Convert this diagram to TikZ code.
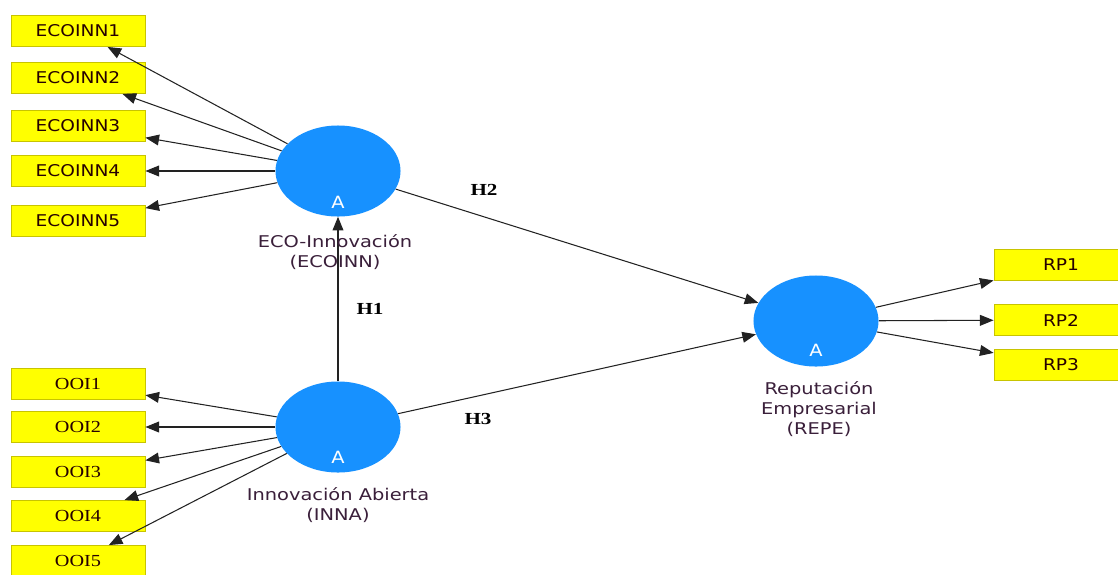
\documentclass[tikz,border=0pt]{standalone}
\usepackage{fontspec}
\usepackage{tikz}
\usetikzlibrary{arrows.meta, shapes.geometric}
\newfontfamily\plsfont[FakeStretch=1.15]{DejaVu Sans}
\newfontfamily\plsname[FakeStretch=1.2]{DejaVu Sans}
\newfontfamily\plsserif[FakeStretch=1.2]{Liberation Serif}
\newfontfamily\hypfont[FakeStretch=1.25]{Liberation Serif}
\definecolor{lvblue}{HTML}{1791FF}
\definecolor{mvyel}{HTML}{FFFF00}
\definecolor{mvedge}{HTML}{C8C400}
\definecolor{labtxt}{HTML}{3A1F3A}
\definecolor{pathc}{HTML}{222222}

\begin{document}
\begin{tikzpicture}[x=0.025cm, y=-0.025cm,
      lv/.style={ellipse, fill=lvblue, minimum width=3.125cm, minimum height=2.275cm, inner sep=0pt},
      mv/.style={rectangle, fill=mvyel, draw=mvedge, line width=0.6pt, minimum width=3.35cm,
                 minimum height=0.775cm, inner sep=0pt, text=black!85!red,
                 font=\plsfont\fontsize{11.5}{13}\selectfont},
      mvs/.style={mv, font=\plsserif\fontsize{12}{13}\selectfont},
      alab/.style={text=white, font=\plsfont\fontsize{12}{13}\selectfont, inner sep=0pt},
      lvname/.style={align=center, text=labtxt, font=\plsname\fontsize{11.5}{14.2}\selectfont},
      hyp/.style={font=\hypfont\bfseries\fontsize{12}{13}\selectfont, inner sep=0pt},
      arr/.style={draw=pathc, line width=0.75pt, -{Triangle[length=3.4mm, width=2.7mm]}}]
      \useasboundingbox (0,0) rectangle (1118,574);
      % latent variables
      \node[lv] (eco) at (338,171) {};
      \node[lv] (inna) at (338,427) {};
      \node[lv] (repe) at (816,321) {};
      \node[alab] (ecoA) at (338,202) {A};
      \node[alab] (innaA) at (338,457) {A};
      \node[alab] (repeA) at (816,350) {A};
      % indicators
      \foreach \i/\y in {1/31,2/78,3/126,4/171,5/221}
        \node[mv] (e\i) at (78,\y) {ECOINN\i};
      \foreach \i/\y in {1/384,2/427,3/472,4/516,5/561}
        \node[mvs] (o\i) at (78,\y) {OOI\i};
      \foreach \i/\y in {1/265,2/320,3/365}
        \node[mv] (r\i) at (1061,\y) {RP\i};
      % outer model
      \foreach \i in {1,...,5} {
        \draw[arr] (eco) -- (e\i);
        \draw[arr] (inna) -- (o\i);
      }
      \foreach \i in {1,2,3} \draw[arr] (repe) -- (r\i);
      % inner model
      \draw[arr] (inna) -- (eco);
      \draw[arr] (eco) -- (repe);
      \draw[arr] (inna) -- (repe);
      \node[lvname] (econame) at (335,252) {ECO-Innovación\\(ECOINN)};
      \node[lvname] (innaname) at (338,505) {Innovación Abierta\\(INNA)};
      \node[lvname] (repename) at (819,409) {Reputación\\Empresarial\\(REPE)};
      \node[hyp] (h1) at (370,309) {H1};
      \node[hyp] (h2) at (484,190) {H2};
      \node[hyp] (h3) at (478,419) {H3};
    \end{tikzpicture}
\end{document}
